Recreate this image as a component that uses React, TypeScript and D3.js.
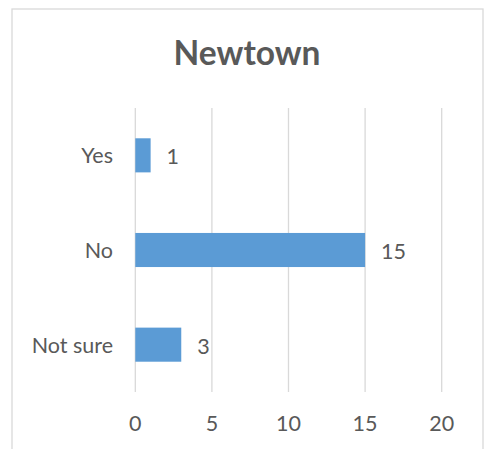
import React from "react";
import * as d3 from "d3";

const categories = ["Yes", "No", "Not sure"];
const values = [1, 15, 3];
const ticks = [0, 5, 10, 15, 20];
const title = "Newtown";

const W = 493;
const H = 449;
const plot = { left: 135.3, right: 441.7, top: 108, bottom: 392 };
const FONT = "Lato, 'Open Sans', sans-serif";
const TEXT = "#595959";
const GRID = "#D9D9D9";
const BAR = "#5B9BD5";
const FS = 21.5;

export default function App() {
  const x = d3.scaleLinear().domain([0, 20]).range([plot.left, plot.right]);
  const y = d3
    .scaleBand<string>()
    .domain(categories)
    .range([plot.top, plot.bottom])
    .paddingInner(0.64)
    .paddingOuter(0.32);

  return (
    <div style={{ position: "absolute", left: 0, top: 0 }}>
      <svg width={W} height={H} style={{ display: "block", background: "#fff" }}>
        <rect x={12} y={9} width={471} height={460} fill="#fff" stroke={GRID} strokeWidth={1.3} />
        <text
          x={247}
          y={65}
          textAnchor="middle"
          fontFamily={FONT}
          fontWeight={700}
          fontSize={33.5}
          fill={TEXT}
        >
          {title}
        </text>
        {ticks.map((t) => (
          <g key={t}>
            <line x1={x(t)} x2={x(t)} y1={plot.top} y2={plot.bottom} stroke={GRID} strokeWidth={1.3} />
            <text
              x={x(t)}
              y={430.5}
              textAnchor="middle"
              fontFamily={FONT}
              fontSize={FS}
              fill={TEXT}
            >
              {t}
            </text>
          </g>
        ))}
        {categories.map((c, i) => {
          const yc = (y(c) as number) + y.bandwidth() / 2;
          return (
            <g key={c}>
              <rect
                x={x(0)}
                y={y(c) as number}
                width={x(values[i]) - x(0)}
                height={y.bandwidth()}
                fill={BAR}
              />
              <text
                x={113}
                y={yc + 8}
                textAnchor="end"
                fontFamily={FONT}
                fontSize={FS}
                fill={TEXT}
              >
                {c}
              </text>
              <text
                x={x(values[i]) + 16}
                y={yc + 9}
                textAnchor="start"
                fontFamily={FONT}
                fontSize={FS}
                fill={TEXT}
              >
                {values[i]}
              </text>
            </g>
          );
        })}
      </svg>
    </div>
  );
}
